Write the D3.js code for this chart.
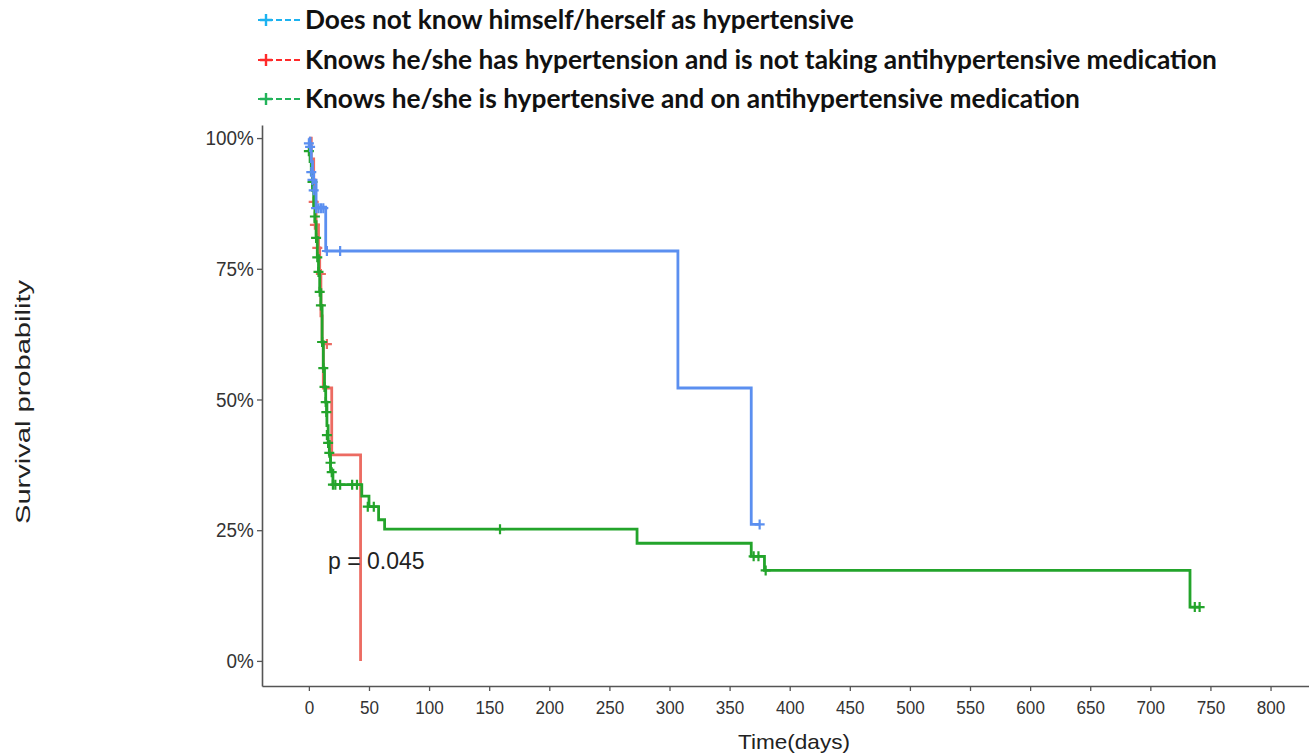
<!DOCTYPE html>
<meta charset="UTF-8">
<style>
body { margin: 0; background: #fff; }
.tick text { font-family: "Liberation Sans", Arial, sans-serif; fill: #333; }
.legend text { font-family: Lato, "Open Sans", sans-serif; font-weight: bold; font-size: 26.3px; fill: #111; }
</style>
<body>
<script src="https://d3js.org/d3.v7.min.js"></script>
<script>
// group names
var groups = [
  "Does not know himself/herself as hypertensive",
  "Knows he/she has hypertension and is not taking antihypertensive medication",
  "Knows he/she is hypertensive and on antihypertensive medication"
];
var lineColors = ["#5b8ff0", "#ec6b62", "#23a42b"];
var legendColors = ["#1cb2f0", "#ff2a2a", "#22b35a"];

// step curves (time in days, survival)
var blueTime = [0, 1, 2, 3, 4, 6, 14, 307, 368];
var blueSurv = [1.0, 0.985, 0.955, 0.935, 0.915, 0.868, 0.784, 0.522, 0.261];
var blueCensT = [0, 1, 2, 3, 4, 6, 8, 10, 12, 15, 26, 375];
var blueCensS = [0.99, 0.983, 0.935, 0.92, 0.9, 0.866, 0.866, 0.866, 0.866, 0.784, 0.784, 0.261];

var redTime = [0, 2, 4, 5, 6, 8, 9, 10, 11, 12, 19, 43];
var redSurv = [1.0, 0.96, 0.92, 0.878, 0.834, 0.79, 0.74, 0.66, 0.61, 0.522, 0.394, 0.0];
var redCensT = [4, 5, 7, 10, 15];
var redCensS = [0.878, 0.834, 0.79, 0.74, 0.606];

var greenTime = [0, 1, 2, 3, 4, 5, 6, 7, 8, 9, 10, 11, 12, 13, 14, 15, 16, 17, 18, 20, 44, 50, 58, 63, 273, 368, 379, 733];
var greenSurv = [0.975, 0.955, 0.93, 0.9, 0.87, 0.84, 0.81, 0.775, 0.745, 0.71, 0.68, 0.61, 0.56, 0.524, 0.495, 0.45, 0.42, 0.395, 0.365, 0.337, 0.315, 0.295, 0.27, 0.252, 0.225, 0.2, 0.173, 0.103];
var greenCensT = [0, 3, 5, 6, 7, 8, 9, 10, 11, 12, 13, 14, 14.5, 15, 16, 17, 18, 19, 20, 22, 26, 36, 40, 49, 54, 159, 370, 374, 380, 737, 741];
var greenCensS = [0.975, 0.916, 0.85, 0.809, 0.772, 0.744, 0.706, 0.68, 0.61, 0.56, 0.524, 0.495, 0.476, 0.432, 0.417, 0.398, 0.379, 0.361, 0.337, 0.337, 0.337, 0.337, 0.337, 0.295, 0.295, 0.252, 0.2, 0.2, 0.173, 0.103, 0.103];

var xTicks = d3.range(0, 801, 50);
var yTicks = [0, 0.25, 0.5, 0.75, 1];

var W = 1309, H = 756;
var svg = d3.select("body").append("svg").attr("width", W).attr("height", H);

var x = d3.scaleLinear().domain([-39, 832]).range([262, 1309]);
var y = d3.scaleLinear().domain([-0.048, 1.025]).range([686, 125]);

// axes
var xAxis = svg.append("g").attr("transform", "translate(0,686)")
  .call(d3.axisBottom(x).tickValues(xTicks).tickSize(5).tickPadding(6).tickSizeOuter(0));
var yAxis = svg.append("g").attr("transform", "translate(262,0)")
  .call(d3.axisLeft(y).tickValues(yTicks).tickSize(5).tickPadding(4).tickSizeOuter(0)
    .tickFormat(function(d) { return Math.round(d * 100) + "%"; }));
[xAxis, yAxis].forEach(function(a) {
  a.select(".domain").attr("stroke", "#555").attr("stroke-width", 1.6);
  a.selectAll(".tick line").attr("stroke", "#555").attr("stroke-width", 1.3);
});
xAxis.selectAll(".tick text").attr("dy", "0.9em").style("font-size", "19px")
  .attr("transform", "scale(0.9,1)");
yAxis.selectAll(".tick text").style("font-size", "21px")
  .attr("transform", "scale(0.9,1)");

// step line builder
function steps(t, s) {
  return t.map(function(d, i) { return [d, s[i]]; });
}
var line = d3.line().x(function(d) { return x(d[0]); }).y(function(d) { return y(d[1]); })
  .curve(d3.curveStepAfter);

var series = [
  {t: blueTime, s: blueSurv, ct: blueCensT, cs: blueCensS, end: 375},
  {t: redTime, s: redSurv, ct: redCensT, cs: redCensS, end: 43},
  {t: greenTime, s: greenSurv, ct: greenCensT, cs: greenCensS, end: 741}
];
var drawOrder = [1, 2, 0];
drawOrder.forEach(function(k) {
  var sr = series[k];
  var pts = steps(sr.t, sr.s);
  pts.push([sr.end, sr.s[sr.s.length - 1]]);
  svg.append("path").datum(pts)
    .attr("d", line).attr("fill", "none")
    .attr("stroke", lineColors[k]).attr("stroke-width", 2.8);
  var cens = steps(sr.ct, sr.cs);
  svg.selectAll(null).data(cens).enter().append("path")
    .attr("d", function(d) {
      var cx = x(d[0]), cy = y(d[1]);
      return "M" + (cx - 5) + "," + cy + "H" + (cx + 5) + "M" + cx + "," + (cy - 5) + "V" + (cy + 5);
    })
    .attr("stroke", lineColors[k]).attr("stroke-width", 2.2);
});

// p value
svg.append("text").attr("x", 328).attr("y", 569)
  .style("font-family", "'Liberation Sans', sans-serif")
  .style("font-size", "23px").attr("fill", "#222").text("p = 0.045");

// axis titles
svg.append("text").attr("x", 794).attr("y", 749).attr("text-anchor", "middle")
  .style("font-family", "'Liberation Sans', sans-serif")
  .style("font-size", "21px").attr("fill", "#222")
  .attr("textLength", 112).attr("lengthAdjust", "spacingAndGlyphs").text("Time(days)");
svg.append("text").attr("transform", "translate(30,402) rotate(-90)").attr("text-anchor", "middle")
  .style("font-family", "'Liberation Sans', Arial, sans-serif")
  .style("font-size", "20px").attr("fill", "#222")
  .attr("textLength", 244).attr("lengthAdjust", "spacingAndGlyphs").text("Survival probability");

// legend
var leg = svg.append("g").attr("class", "legend");
var legY = [20, 60, 99];
groups.forEach(function(g, i) {
  var r = leg.append("g").attr("transform", "translate(0," + legY[i] + ")");
  r.append("line").attr("x1", 258).attr("x2", 300).attr("y1", 0).attr("y2", 0)
    .attr("stroke", legendColors[i]).attr("stroke-width", 2).attr("stroke-dasharray", "6,3");
  r.append("path").attr("d", "M266,-6V6M260,0H272")
    .attr("stroke", legendColors[i]).attr("stroke-width", 2.4);
  r.append("text").attr("x", 305).attr("y", 9).text(g);
});
</script>
</body>
